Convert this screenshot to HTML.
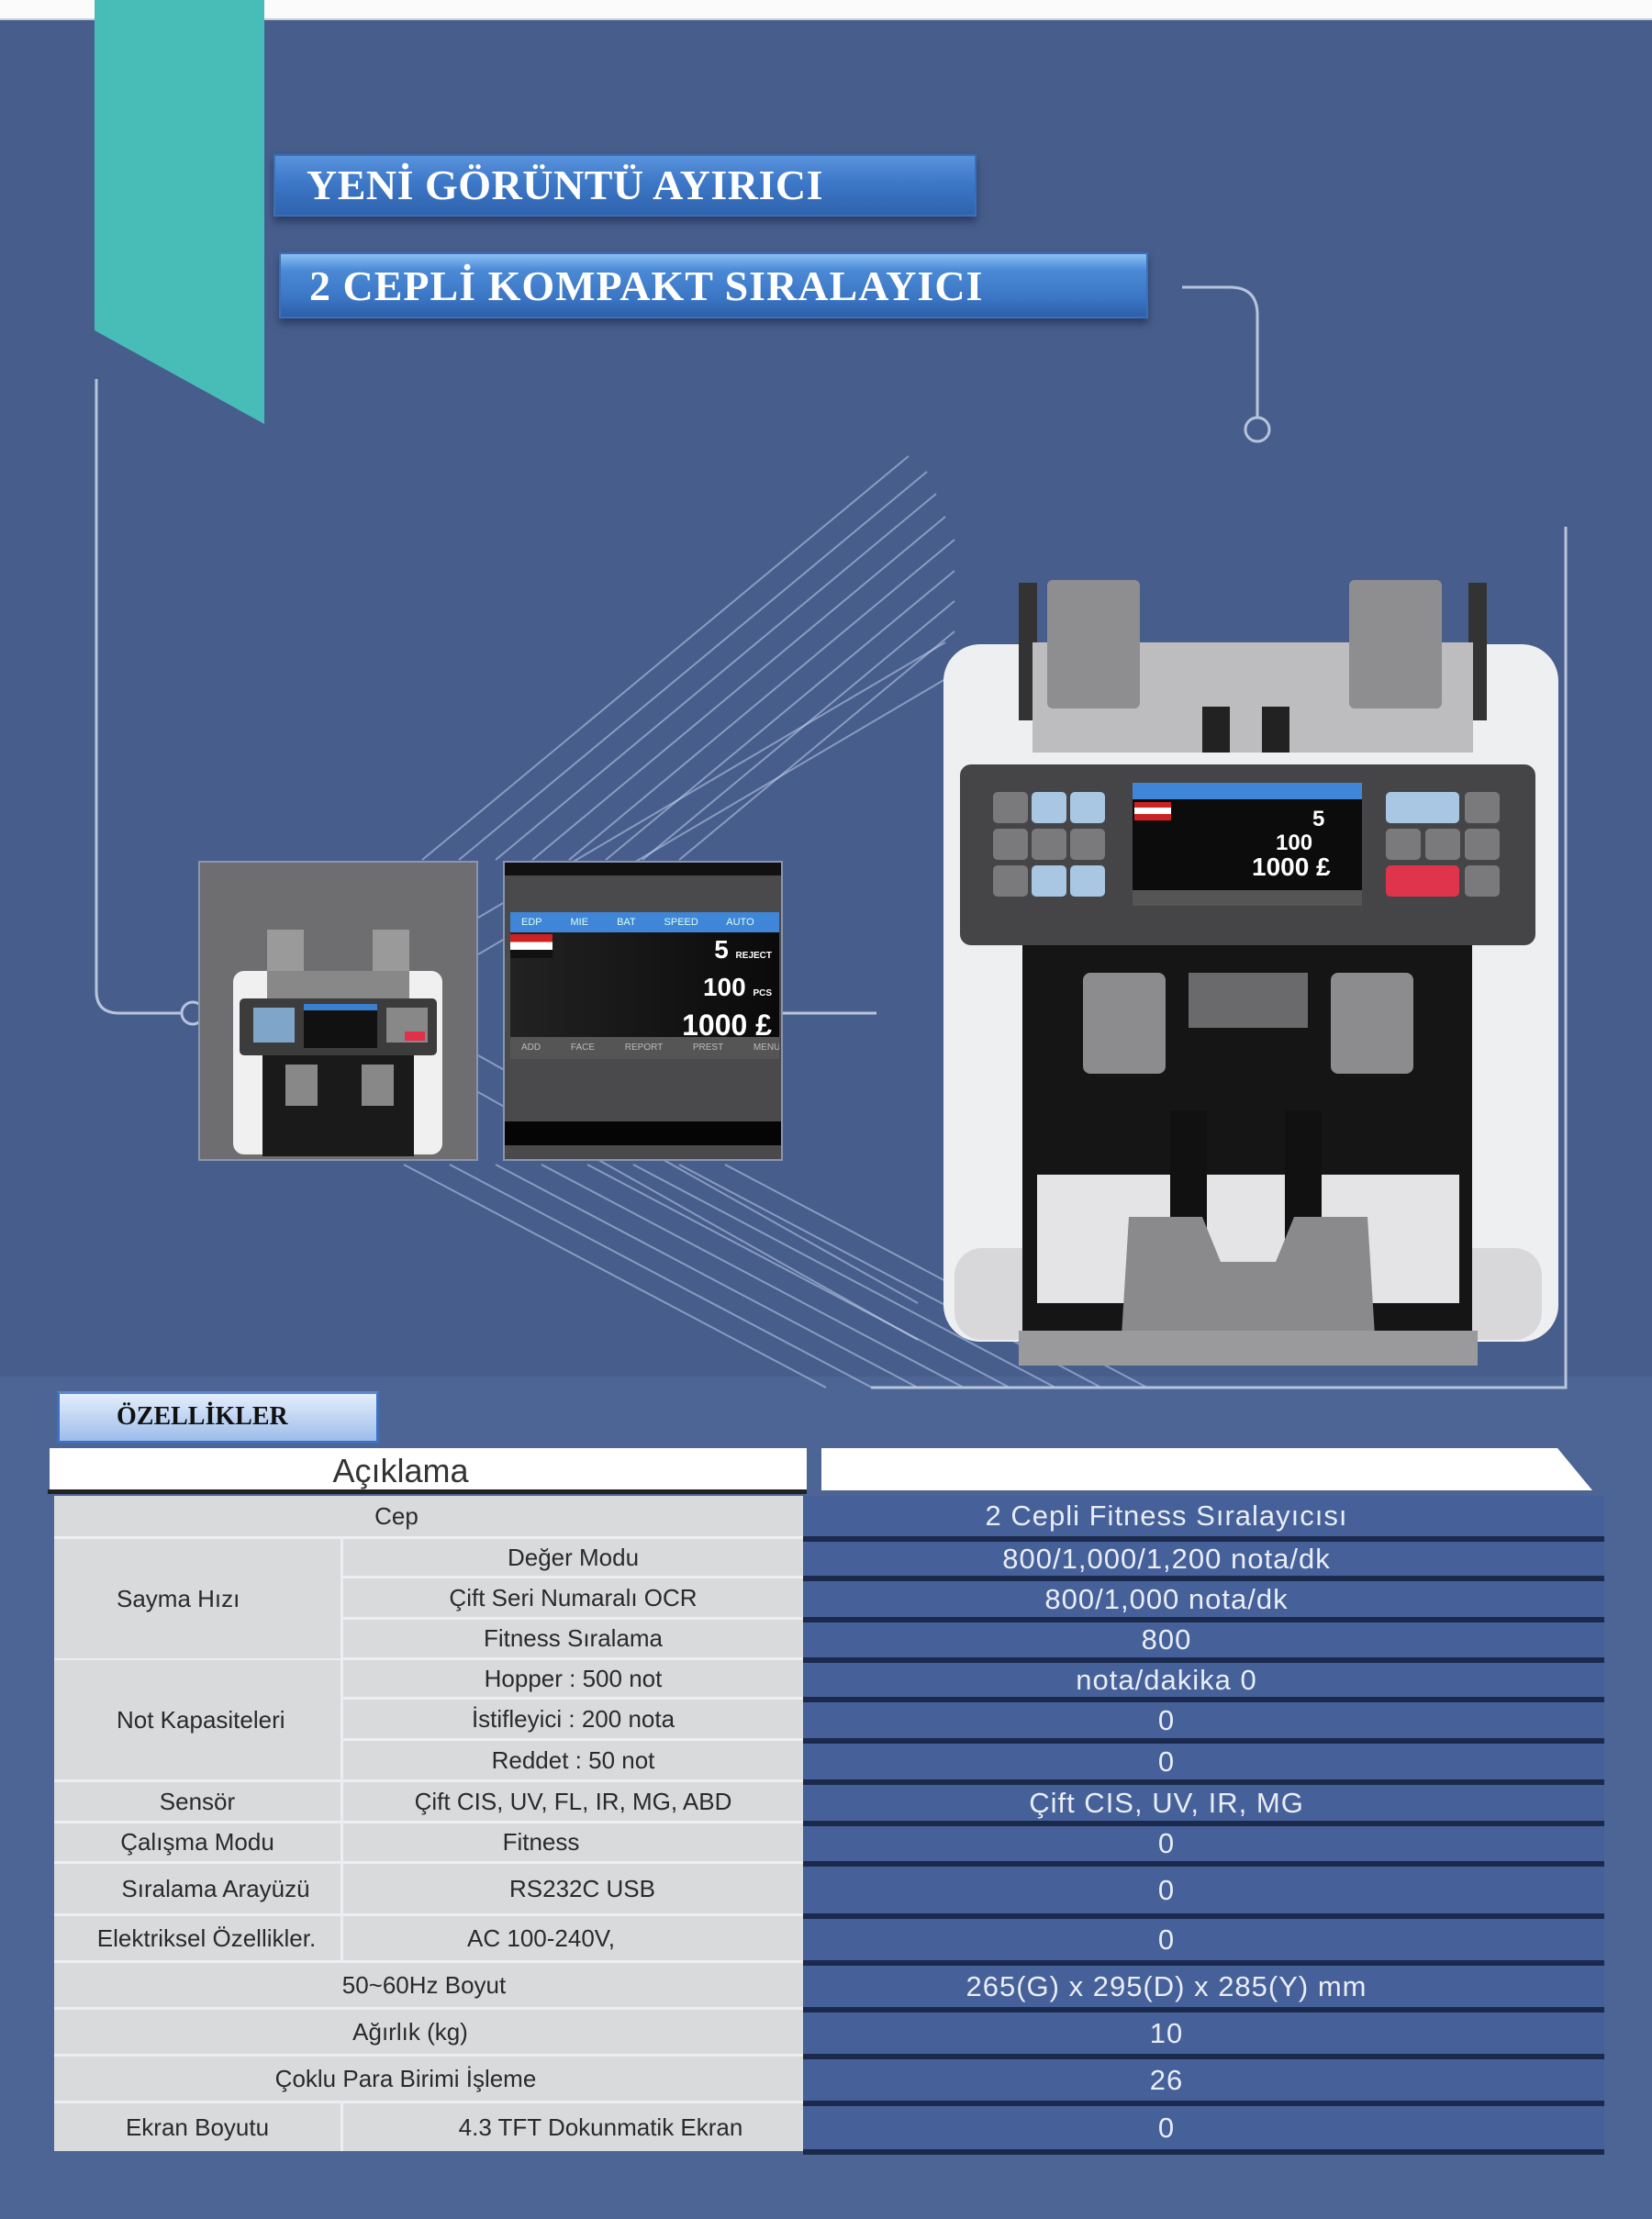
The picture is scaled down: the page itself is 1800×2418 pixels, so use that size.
<!DOCTYPE html>
<html><head><meta charset="utf-8">
<style>
*{margin:0;padding:0;box-sizing:border-box}
body{width:1800px;height:2418px;position:relative;overflow:hidden;background:#475e8d;font-family:"Liberation Sans",sans-serif}
.a{position:absolute}
.title{position:absolute;color:#fff;font-family:"Liberation Serif",serif;font-weight:bold;background:linear-gradient(#5a93dc,#3d78c8 45%,#2f63ad);box-shadow:0 6px 8px rgba(20,30,60,.5);border:2px solid #3a6fba;letter-spacing:0.5px;white-space:nowrap}
.lc{position:absolute;background:#d9dadc;color:#2a2a2a;font-size:26px;display:flex;align-items:center;justify-content:center;white-space:nowrap}
.rc{position:absolute;left:875px;width:873px;background:#46619a;border-bottom:6px solid #1b2a4c;color:#e9edf5;font-size:31px;letter-spacing:1px;display:flex;align-items:center;white-space:nowrap}
.rc span{position:absolute;left:0;width:792px;text-align:center}
</style></head><body>
<div class="a" style="left:0;top:0;width:1800px;height:22px;background:#fbfbfb;border-bottom:2px solid #c8cdd8"></div>
<div class="a" style="left:0;top:1500px;width:1800px;height:918px;background:#4d6595"></div>

<svg class="a" style="left:0;top:0" width="1800" height="2418">
<polygon points="103,0 288,0 288,462 103,360" fill="#48bdb7"/>
<g stroke="rgba(220,230,255,0.45)" stroke-width="2" fill="none">
<line x1="460" y1="937" x2="990" y2="497"/>
<line x1="500" y1="937" x2="1010" y2="514"/>
<line x1="540" y1="937" x2="1020" y2="538"/>
<line x1="580" y1="937" x2="1030" y2="563"/>
<line x1="620" y1="937" x2="1040" y2="588"/>
<line x1="660" y1="937" x2="1040" y2="622"/>
<line x1="700" y1="937" x2="1040" y2="655"/>
<line x1="740" y1="937" x2="1040" y2="688"/>
<line x1="521" y1="1000" x2="1030" y2="700"/>
<line x1="521" y1="1040" x2="1030" y2="740"/>
<line x1="440" y1="1269" x2="900" y2="1512"/>
<line x1="490" y1="1269" x2="950" y2="1512"/>
<line x1="540" y1="1269" x2="1000" y2="1512"/>
<line x1="590" y1="1269" x2="1050" y2="1512"/>
<line x1="640" y1="1269" x2="1100" y2="1512"/>
<line x1="690" y1="1269" x2="1150" y2="1512"/>
<line x1="740" y1="1269" x2="1200" y2="1512"/>
<line x1="790" y1="1269" x2="1250" y2="1512"/>
<line x1="521" y1="1150" x2="1000" y2="1420"/>
<line x1="521" y1="1190" x2="1000" y2="1460"/>
</g>
<g stroke="#b8c4dc" stroke-width="3" fill="none">
<path d="M1288,313 H1340 Q1370,313 1370,343 V456"/>
<circle cx="1370" cy="468" r="13"/>
<path d="M105,413 V1080 Q105,1104 130,1104 H198"/>
<circle cx="210" cy="1104" r="12"/>
<line x1="853" y1="1104" x2="955" y2="1104"/>
<path d="M1706,574 V1512 H949"/>
</g>
</svg>

<div class="title" style="left:298px;top:168px;width:766px;height:68px;font-size:46px;line-height:64px;padding-left:34px">YENİ GÖRÜNTÜ AYIRICI</div>
<div class="title" style="left:304px;top:275px;width:947px;height:72px;font-size:46px;line-height:70px;padding-left:31px;letter-spacing:1px;background:linear-gradient(#8cc0f4,#4b8ad6 25%,#3b76c5 70%,#2d5fa8)">2 CEPLİ KOMPAKT SIRALAYICI</div>

<!-- thumbnail 1 -->
<div class="a" style="left:216px;top:938px;width:305px;height:327px;background:#6e6e70;border:2px solid #8a96b0"></div>
<svg class="a" style="left:216px;top:938px" width="305" height="327">
<rect x="38" y="120" width="228" height="200" rx="12" fill="#f0f0f0"/>
<rect x="75" y="75" width="40" height="60" fill="#9a9a9a"/><rect x="190" y="75" width="40" height="60" fill="#9a9a9a"/>
<rect x="75" y="120" width="155" height="40" fill="#888"/>
<rect x="45" y="150" width="215" height="62" rx="5" fill="#3c3c3c"/>
<rect x="115" y="156" width="80" height="48" fill="#111"/><rect x="115" y="156" width="80" height="7" fill="#3b7fd0"/>
<rect x="60" y="160" width="45" height="38" fill="#7fa6c8"/><rect x="205" y="160" width="45" height="38" fill="#888"/>
<rect x="225" y="186" width="22" height="10" fill="#e0304a"/>
<rect x="70" y="212" width="165" height="110" fill="#1a1a1a"/>
<rect x="95" y="222" width="35" height="45" fill="#888"/><rect x="178" y="222" width="35" height="45" fill="#888"/>
</svg>
<!-- thumbnail 2 -->
<div class="a" style="left:548px;top:938px;width:305px;height:327px;background:#4a4a4c;border:2px solid #8a96b0;overflow:hidden">
<div class="a" style="left:0;top:0;width:305px;height:14px;background:#111"></div>
<div class="a" style="left:6px;top:54px;width:293px;height:160px;background:linear-gradient(90deg,#222,#0a0a0a)"></div>
<div class="a" style="left:6px;top:54px;width:293px;height:22px;background:#3f86d8;color:#dfe;font-size:11px;line-height:22px;word-spacing:28px;padding-left:12px">EDP MIE BAT SPEED AUTO</div>
<div class="a" style="left:6px;top:78px;width:46px;height:26px;background:linear-gradient(#c22 33%,#fff 33%,#fff 66%,#111 66%)"></div>
<div class="a" style="right:10px;top:78px;color:#fff;font-size:28px;font-weight:bold;text-align:right;line-height:34px">5 <small style="font-size:10px">REJECT</small><br>100 <small style="font-size:10px">PCS</small><br><span style="font-size:32px">1000 £</span></div>
<div class="a" style="left:6px;top:190px;width:293px;height:24px;background:#555;color:#bbb;font-size:10px;line-height:24px;word-spacing:30px;padding-left:12px;white-space:nowrap;overflow:hidden">ADD FACE REPORT PREST MENU</div>
<div class="a" style="left:0;top:282px;width:305px;height:26px;background:#050505"></div>
</div>

<!-- main machine -->
<svg class="a" style="left:1000px;top:600px" width="720" height="900">
<rect x="28" y="102" width="670" height="760" rx="40" fill="#eeeff1"/>
<rect x="40" y="760" width="640" height="100" rx="30" fill="#d8d8da"/>
<rect x="110" y="35" width="20" height="150" fill="#333"/><rect x="600" y="35" width="20" height="150" fill="#333"/>
<rect x="125" y="100" width="480" height="120" fill="#bdbdbf"/>
<rect x="141" y="32" width="101" height="140" rx="6" fill="#8e8e90"/><rect x="470" y="32" width="101" height="140" rx="6" fill="#8e8e90"/>
<rect x="310" y="170" width="30" height="50" fill="#222"/><rect x="375" y="170" width="30" height="50" fill="#222"/>
<rect x="46" y="233" width="627" height="197" rx="12" fill="#454547"/>
<rect x="234" y="253" width="250" height="134" fill="#0c0c0c"/>
<rect x="234" y="253" width="250" height="18" fill="#3f86d8"/>
<rect x="236" y="274" width="40" height="20" fill="#c22"/><rect x="236" y="280" width="40" height="7" fill="#fff"/>
<text x="430" y="300" fill="#fff" font-family="Liberation Sans" font-size="24" font-weight="bold">5</text>
<text x="390" y="326" fill="#fff" font-family="Liberation Sans" font-size="24" font-weight="bold">100</text>
<text x="364" y="354" fill="#fff" font-family="Liberation Sans" font-size="28" font-weight="bold">1000 £</text>
<rect x="234" y="370" width="250" height="17" fill="#555"/>
<g fill="#7a7a7c"><rect x="82" y="263" width="38" height="34" rx="5"/><rect x="82" y="303" width="38" height="34" rx="5"/><rect x="82" y="343" width="38" height="34" rx="5"/><rect x="124" y="303" width="38" height="34" rx="5"/><rect x="166" y="303" width="38" height="34" rx="5"/></g>
<g fill="#a9c6e2"><rect x="124" y="263" width="38" height="34" rx="5"/><rect x="166" y="263" width="38" height="34" rx="5"/><rect x="124" y="343" width="38" height="34" rx="5"/><rect x="166" y="343" width="38" height="34" rx="5"/><rect x="510" y="263" width="80" height="34" rx="5"/></g>
<g fill="#7a7a7c"><rect x="596" y="263" width="38" height="34" rx="5"/><rect x="510" y="303" width="38" height="34" rx="5"/><rect x="553" y="303" width="38" height="34" rx="5"/><rect x="596" y="303" width="38" height="34" rx="5"/><rect x="596" y="343" width="38" height="34" rx="5"/></g>
<rect x="510" y="343" width="80" height="34" rx="5" fill="#e0334c"/>
<rect x="114" y="430" width="490" height="428" fill="#151515"/>
<rect x="180" y="460" width="90" height="110" rx="8" fill="#8c8c8e"/><rect x="450" y="460" width="90" height="110" rx="8" fill="#8c8c8e"/>
<rect x="295" y="460" width="130" height="60" fill="#6a6a6c"/>
<rect x="130" y="680" width="460" height="140" fill="#e4e4e6"/>
<rect x="275" y="610" width="40" height="150" fill="#111"/><rect x="400" y="610" width="40" height="150" fill="#111"/>
<polygon points="230,726 310,726 330,775 390,775 410,726 490,726 500,888 220,888" fill="#8a8a8c"/>
<rect x="110" y="850" width="500" height="38" fill="#9a9a9c"/>
</svg>

<!-- features -->
<div class="a" style="left:62px;top:1516px;width:351px;height:57px;background:linear-gradient(#e4eefc,#9dbdeb);border:3px solid #3f6fc0;border-top-color:#5c87cc;font-family:'Liberation Serif',serif;font-weight:bold;font-size:28px;line-height:50px;padding-left:62px;color:#111">ÖZELLİKLER</div>
<div class="a" style="left:54px;top:1578px;width:825px;height:49px;background:#fff;font-size:36px;line-height:50px;text-align:center;padding-right:60px;color:#333">Açıklama</div>
<div class="a" style="left:52px;top:1623px;width:827px;height:5px;background:#222"></div>
<svg class="a" style="left:895px;top:1578px" width="850" height="50"><polygon points="0,0 802,0 840,46 0,46" fill="#fff"/></svg>

<div class="a" style="left:59px;top:1630px;width:816px;height:714px;background:#eceef2"></div>
<div class="lc" style="left:59px;top:1630px;width:816px;height:44px;padding-right:70px">Cep</div>
<div class="lc" style="left:59px;top:1677px;width:312px;height:130px;justify-content:flex-start;padding-left:68px">Sayma Hızı</div>
<div class="lc" style="left:374px;top:1677px;width:501px;height:40px">Değer Modu</div>
<div class="lc" style="left:374px;top:1720px;width:501px;height:42px">Çift Seri Numaralı OCR</div>
<div class="lc" style="left:374px;top:1765px;width:501px;height:41px">Fitness Sıralama</div>
<div class="lc" style="left:59px;top:1809px;width:312px;height:130px;justify-content:flex-start;padding-left:68px">Not Kapasiteleri</div>
<div class="lc" style="left:374px;top:1809px;width:501px;height:40px">Hopper : 500 not</div>
<div class="lc" style="left:374px;top:1852px;width:501px;height:42px">İstifleyici : 200 nota</div>
<div class="lc" style="left:374px;top:1897px;width:501px;height:42px">Reddet : 50 not</div>
<div class="lc" style="left:59px;top:1942px;width:312px;height:42px">Sensör</div>
<div class="lc" style="left:374px;top:1942px;width:501px;height:42px">Çift CIS, UV, FL, IR, MG, ABD</div>
<div class="lc" style="left:59px;top:1987px;width:312px;height:41px">Çalışma Modu</div>
<div class="lc" style="left:374px;top:1987px;width:501px;height:41px;padding-right:70px">Fitness</div>
<div class="lc" style="left:59px;top:2031px;width:312px;height:54px;padding-left:40px">Sıralama Arayüzü</div>
<div class="lc" style="left:374px;top:2031px;width:501px;height:54px;padding-left:20px">RS232C USB</div>
<div class="lc" style="left:59px;top:2088px;width:312px;height:48px;padding-left:20px">Elektriksel Özellikler.</div>
<div class="lc" style="left:374px;top:2088px;width:501px;height:48px;padding-right:70px">AC 100-240V,</div>
<div class="lc" style="left:59px;top:2139px;width:816px;height:48px;padding-right:10px">50~60Hz Boyut</div>
<div class="lc" style="left:59px;top:2190px;width:816px;height:48px;padding-right:40px">Ağırlık (kg)</div>
<div class="lc" style="left:59px;top:2241px;width:816px;height:48px;padding-right:50px">Çoklu Para Birimi İşleme</div>
<div class="lc" style="left:59px;top:2292px;width:312px;height:52px">Ekran Boyutu</div>
<div class="lc" style="left:374px;top:2292px;width:501px;height:52px;padding-left:60px">4.3 TFT Dokunmatik Ekran</div>

<div class="rc" style="top:1630px;height:50px"><span>2 Cepli Fitness Sıralayıcısı</span></div>
<div class="rc" style="top:1680px;height:43px"><span>800/1,000/1,200 nota/dk</span></div>
<div class="rc" style="top:1723px;height:45px"><span>800/1,000 nota/dk</span></div>
<div class="rc" style="top:1768px;height:44px"><span>800</span></div>
<div class="rc" style="top:1812px;height:43px"><span>nota/dakika 0</span></div>
<div class="rc" style="top:1855px;height:45px"><span>0</span></div>
<div class="rc" style="top:1900px;height:45px"><span>0</span></div>
<div class="rc" style="top:1945px;height:45px"><span>Çift CIS, UV, IR, MG</span></div>
<div class="rc" style="top:1990px;height:44px"><span>0</span></div>
<div class="rc" style="top:2034px;height:57px"><span>0</span></div>
<div class="rc" style="top:2091px;height:51px"><span>0</span></div>
<div class="rc" style="top:2142px;height:51px"><span>265(G) x 295(D) x 285(Y) mm</span></div>
<div class="rc" style="top:2193px;height:51px"><span>10</span></div>
<div class="rc" style="top:2244px;height:51px"><span>26</span></div>
<div class="rc" style="top:2295px;height:53px"><span>0</span></div>
</body></html>
